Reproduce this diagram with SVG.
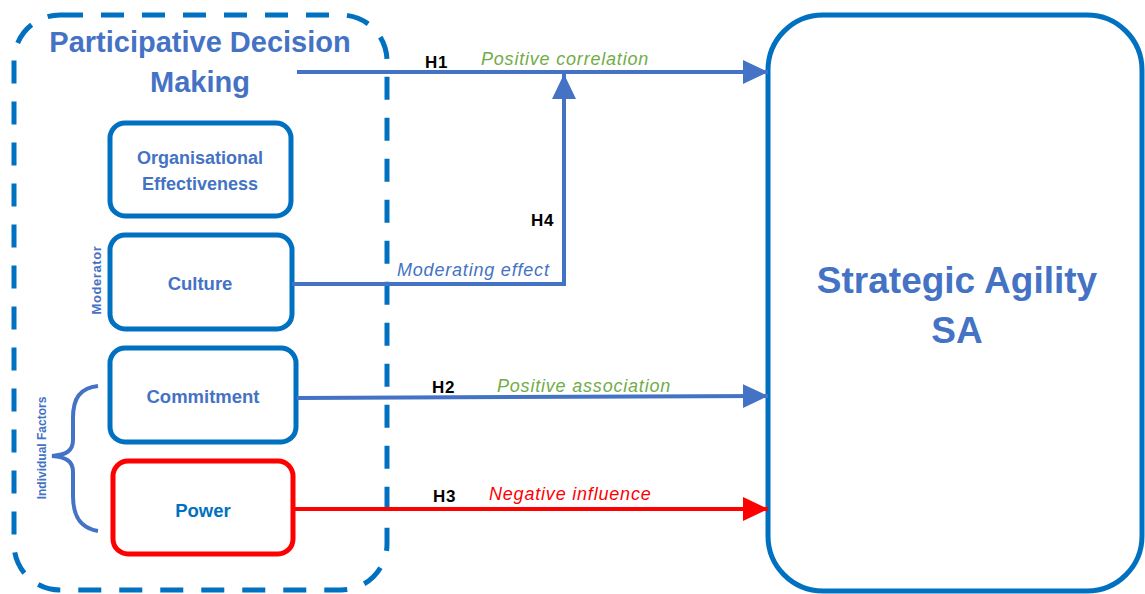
<svg xmlns="http://www.w3.org/2000/svg" width="1145" height="594" viewBox="0 0 1145 594">
<defs>
<style>
.box{fill:#fff;stroke:#0070C0;stroke-width:5}
.red{fill:#fff;stroke:#FF0000;stroke-width:5}
.t{font-family:"Liberation Sans",Arial,sans-serif;font-weight:bold;fill:#4472C4;text-anchor:middle}
.lbl{font-family:"Liberation Sans",Arial,sans-serif;font-style:italic;font-size:18px;letter-spacing:0.8px}
.h{font-family:"Liberation Sans",Arial,sans-serif;font-weight:bold;font-size:17px;letter-spacing:0.8px;fill:#000}
.c{fill:none;stroke:#4472C4;stroke-width:4}
</style>
<marker id="ab" markerUnits="userSpaceOnUse" markerWidth="26" markerHeight="26" refX="25" refY="12" orient="auto"><path d="M0,0 L25,12 L0,24 Z" fill="#4472C4"/></marker>
<marker id="ar" markerUnits="userSpaceOnUse" markerWidth="26" markerHeight="26" refX="25" refY="12" orient="auto"><path d="M0,0 L25,12 L0,24 Z" fill="#FF0000"/></marker>
</defs>
<rect width="1145" height="594" fill="#fff"/>
<g id="pdm">
<rect x="14" y="15" width="373" height="575" rx="46" fill="none" stroke="#0070C0" stroke-width="5" stroke-dasharray="23 18"/>
<text class="t" x="200" y="52" font-size="29">Participative Decision</text>
<text class="t" x="200" y="92" font-size="29">Making</text>
</g>
<g id="org">
<rect class="box" x="110" y="123" width="181" height="93" rx="15"/>
<text class="t" x="200" y="164" font-size="18">Organisational</text>
<text class="t" x="200" y="190" font-size="18">Effectiveness</text>
</g>
<g id="culture">
<rect class="box" x="110" y="235" width="182" height="94" rx="15"/>
<text class="t" x="200" y="290" font-size="18.5">Culture</text>
</g>
<g id="commitment">
<rect class="box" x="110" y="348" width="186" height="94" rx="15"/>
<text class="t" x="203" y="403" font-size="18.5">Commitment</text>
</g>
<g id="power">
<rect class="red" x="113" y="461" width="180" height="93" rx="15"/>
<text class="t" x="203" y="517" font-size="18.5" style="fill:#0070C0">Power</text>
</g>
<g id="moderator">
<text class="t" font-size="13" letter-spacing="0.6" transform="translate(101,280) rotate(-90)">Moderator</text>
</g>
<g id="individual">
<text class="t" font-size="12" transform="translate(46,448) rotate(-90)">Individual Factors</text>
<path class="c" d="M98,386 C80,388 73,398 73,418 L73,440 C73,451 66,455 52,456 C66,457 73,461 73,472 L73,496 C73,516 80,528 98,531"/>
</g>
<g id="sa">
<rect class="box" x="768" y="15" width="374" height="576" rx="55"/>
<text class="t" x="957" y="293" font-size="37">Strategic Agility</text>
<text class="t" x="957" y="343" font-size="37">SA</text>
</g>
<g id="connectors">
<line class="c" x1="297" y1="72" x2="768" y2="72" marker-end="url(#ab)"/>
<polyline class="c" points="292,284 564,284 564,74" marker-end="url(#ab)"/>
<line class="c" x1="297" y1="398" x2="768" y2="396" marker-end="url(#ab)"/>
<line x1="294" y1="509" x2="768" y2="509" stroke="#FF0000" stroke-width="4" marker-end="url(#ar)"/>
<text class="h" x="425" y="68">H1</text>
<text class="lbl" x="481" y="65" fill="#70AD47">Positive correlation</text>
<text class="h" x="531" y="226">H4</text>
<text class="lbl" x="397" y="276" fill="#4472C4">Moderating effect</text>
<text class="h" x="432" y="393">H2</text>
<text class="lbl" x="497" y="392" fill="#70AD47">Positive association</text>
<text class="h" x="433" y="502">H3</text>
<text class="lbl" x="489" y="500" fill="#FF0000">Negative influence</text>
</g>
</svg>
